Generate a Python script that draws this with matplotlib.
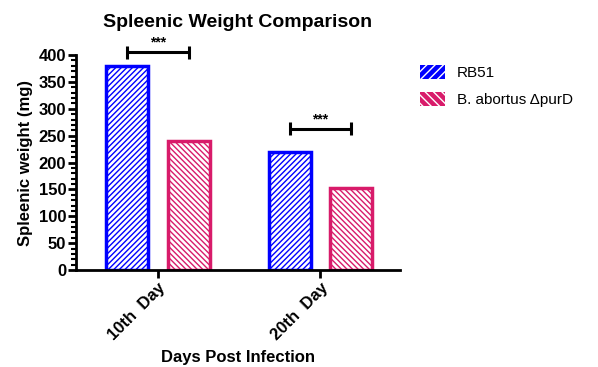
import numpy as np
import matplotlib
matplotlib.use("Agg")
import matplotlib.pyplot as plt
from matplotlib.patches import Patch
from matplotlib.ticker import MultipleLocator

plt.rcParams['font.family'] = ['Liberation Sans', 'DejaVu Sans']
plt.rcParams['hatch.linewidth'] = 1.0

# data
days = ["10th  Day", "20th  Day"]
rb51 = [380, 220]
purd = [240, 152]
sig_y = [405, 263]
sig_text = ["***", "***"]

blue = "#0000ff"
pink = "#d81b6a"

fig = plt.figure(figsize=(5.98, 3.67), dpi=100)
ax = fig.add_axes([0.127, 0.264, 0.542, 0.586])

x = np.arange(len(days))
w = 0.26
off = 0.19

ax.bar(x - off, rb51, w, facecolor="white", edgecolor=blue, hatch="//////", linewidth=2.5)
ax.bar(x + off, purd, w, facecolor="white", edgecolor=pink, hatch="\\\\\\\\\\\\", linewidth=2.5)

# significance brackets
for i in range(len(days)):
    x0, x1, y = x[i] - off, x[i] + off, sig_y[i]
    kw = dict(color="black", lw=2.2, solid_capstyle="butt", clip_on=False)
    ax.plot([x0, x1], [y, y], **kw)
    ax.plot([x0, x0], [y - 12, y + 12], **kw)
    ax.plot([x1, x1], [y - 12, y + 12], **kw)
    ax.text((x0 + x1) / 2, y + 5, sig_text[i], ha="center", va="bottom",
            fontsize=10, fontweight="bold", clip_on=False)

ax.set_xlim(-0.506, 1.49)
ax.set_ylim(0, 400)
ax.yaxis.set_major_locator(MultipleLocator(50))
ax.yaxis.set_minor_locator(MultipleLocator(10))
ax.set_xticks(x)
ax.set_xticklabels(days, rotation=45, ha="right", rotation_mode="anchor", fontsize=12, fontweight="bold")
for lab in ax.get_yticklabels():
    lab.set_fontweight("bold")
    lab.set_fontsize(12)

for s in ["top", "right"]:
    ax.spines[s].set_visible(False)
for s in ["left", "bottom"]:
    ax.spines[s].set_linewidth(2)
ax.tick_params(axis="both", which="major", width=2, length=6, pad=1)
ax.tick_params(axis="y", which="minor", width=1.5, length=3.5)

ax.set_ylabel("Spleenic weight (mg)", fontsize=12, fontweight="bold", labelpad=4)
ax.set_xlabel("Days Post Infection", fontsize=12, fontweight="bold", labelpad=5)
ax.set_title("Spleenic Weight Comparison", fontsize=14, fontweight="bold", pad=20)

handles = [
    Patch(facecolor=blue, edgecolor="white", hatch="////", linewidth=0),
    Patch(facecolor=pink, edgecolor="white", hatch="\\\\\\\\", linewidth=0),
]
fig.legend(handles, ["RB51", "B. abortus \u0394purD"], loc="upper left",
           bbox_to_anchor=(0.68, 0.86), frameon=False, fontsize=11,
           handlelength=1.6, handleheight=1.0, labelspacing=0.8)

fig.savefig("out.png", dpi=100)
